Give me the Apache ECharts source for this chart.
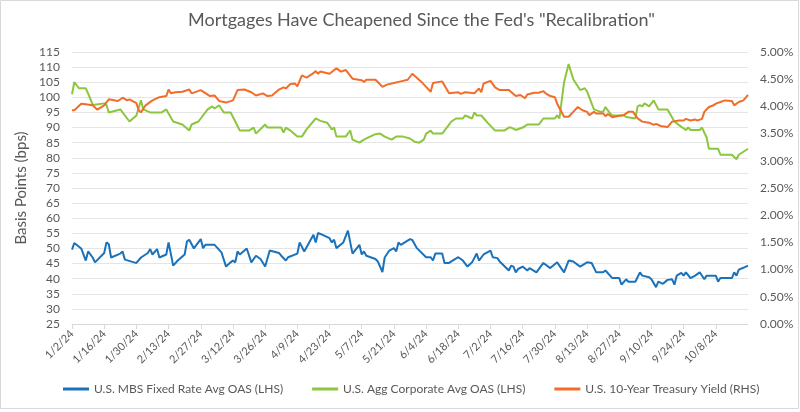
<!DOCTYPE html>
<html><head><meta charset="utf-8">
<script src="https://cdn.jsdelivr.net/npm/echarts@6/dist/echarts.min.js"></script>
<style>html,body{margin:0;padding:0;background:#fff}#c{width:800px;height:412px}</style>
</head><body><div id="c"></div>
<script>
const titleText = 'Mortgages Have Cheapened Since the Fed\'s "Recalibration"';
const seriesNames = ['U.S. MBS Fixed Rate Avg OAS (LHS)', 'U.S. Agg Corporate Avg OAS (LHS)', 'U.S. 10-Year Treasury Yield (RHS)'];
const axisStart = '2024-01-02';
const axisEnd = '2024-10-22';
const leftTicks = [25, 115, 5];
const rightTicks = [0, 5, 0.5];

const mbsDates = ['01-02','01-03','01-06','01-08','01-09','01-11','01-12','01-16','01-17','01-18','01-19','01-23','01-24','01-25','01-29','01-30','02-01','02-04','02-05','02-06','02-08','02-09','02-12','02-13','02-15','02-17','02-20','02-21','02-22','02-24','02-27','02-28','02-29','03-04','03-07','03-09','03-11','03-12','03-13','03-14','03-15','03-18','03-20','03-22','03-24','03-26','03-28','04-01','04-02','04-04','04-05','04-09','04-10','04-12','04-16','04-17','04-18','04-20','04-23','04-24','04-25','04-26','04-29','05-01','05-03','05-06','05-07','05-08','05-09','05-13','05-14','05-16','05-17','05-19','05-21','05-22','05-23','05-24','05-28','05-29','05-31','06-04','06-06','06-07','06-08','06-11','06-12','06-14','06-15','06-18','06-20','06-22','06-24','06-26','06-27','06-29','07-02','07-03','07-05','07-06','07-10','07-11','07-12','07-13','07-14','07-16','07-18','07-19','07-22','07-25','07-28','07-31','08-03','08-05','08-07','08-10','08-13','08-15','08-17','08-20','08-21','08-24','08-27','08-28','08-30','08-31','09-03','09-05','09-06','09-09','09-10','09-12','09-13','09-15','09-17','09-19','09-20','09-21','09-23','09-24','09-25','09-27','09-29','10-01','10-03','10-04','10-08','10-09','10-10','10-15','10-16','10-17','10-18','10-20','10-22'];
const mbsOas = [49.6,51.8,50,46,49,47,45.4,48.5,52,51.4,47,48.3,49,46.3,45.4,45.2,47,48.5,49.8,48,49.8,47,48,52,44.3,46,48,52.3,52.9,50,53.1,50.1,51.2,51.2,48.7,44,45.4,46,45.4,49,48,50,45.4,47.6,46.5,44,49.3,48.5,47.6,46,47.1,48.3,52,49,54.5,52,55.1,54.5,53.4,52,52.9,50.1,52,55.9,48.3,51.2,48,49,47.6,46.5,45.7,42.2,47,49.3,50.1,49,52,51.2,53.1,52.8,50.1,47.1,47.1,46,48.3,48.3,45.2,45.2,45.7,47.1,46,44,45.4,48.3,46,48,49.3,47.1,46.8,45.7,42.7,44.3,44,42.1,43.2,44,42.7,43.5,42.1,45.2,43.5,45.4,42.1,46,45.7,44,45.4,45.2,42.1,42.1,42.7,40.2,40.2,38,39.8,39,39,42.1,41,40.5,39.8,37.2,39,38.3,39.6,39.8,38,41,41.9,41,42.1,40.2,41,42.1,39.8,41,41,39,40.2,40.2,42.1,41,43,43.6,44.3];

const corpDates = ['01-02','01-03','01-05','01-08','01-10','01-11','01-16','01-17','01-18','01-23','01-27','01-30','02-01','02-02','02-05','02-10','02-12','02-15','02-19','02-22','02-23','02-26','03-01','03-03','03-04','03-06','03-08','03-11','03-13','03-15','03-19','03-21','03-22','03-26','03-27','04-02','04-03','04-04','04-06','04-09','04-11','04-13','04-17','04-19','04-22','04-24','04-25','04-26','04-30','05-02','05-03','05-06','05-08','05-09','05-13','05-15','05-17','05-20','05-22','05-25','05-28','05-30','06-01','06-03','06-04','06-06','06-07','06-11','06-14','06-15','06-17','06-20','06-21','06-24','06-25','06-26','06-28','07-01','07-04','07-08','07-10','07-11','07-13','07-16','07-17','07-18','07-23','07-25','07-30','07-31','08-01','08-03','08-05','08-07','08-10','08-12','08-13','08-16','08-19','08-20','08-21','08-23','08-24','08-29','08-30','09-03','09-04','09-05','09-06','09-07','09-09','09-11','09-13','09-17','09-20','09-22','09-25','09-26','09-27','10-01','10-02','10-04','10-05','10-09','10-10','10-15','10-17','10-18','10-22'];
const corpOas = [101,105,103,103,99.5,97.5,98,97.5,95,96,92,94,99,96,95,95,96,92,91,89,91,92,96,97,96.3,97.4,95,95,92,89,89,90,88,91,90,90,88.3,90,89,87,87,89.4,93,92.2,91.6,89.4,90,87,87,89,86,85,86,86.4,87.8,88,87,86,87,87,86.4,85.3,85,86,88,89,88,88,91,92,93,93,94,93,95,94,94,91.4,89,89,90,90,89.2,90,90.5,91,91,93,93,94,93,105,111,106,102.4,103,102,96,95.2,95.2,96.8,94.7,94,94,93.5,93,97,97.4,97,98,97,99,96,96,92,90.8,89.2,90,89.2,89.2,90,86.7,83,83,81,81,79.5,81,83];

const tsyDates = ['01-02','01-03','01-06','01-08','01-11','01-13','01-16','01-18','01-22','01-24','01-26','01-27','01-30','01-31','02-01','02-03','02-06','02-09','02-12','02-13','02-14','02-16','02-19','02-22','02-23','02-27','03-02','03-04','03-06','03-09','03-12','03-14','03-17','03-20','03-22','03-25','03-27','03-29','04-01','04-03','04-04','04-06','04-08','04-09','04-11','04-13','04-16','04-17','04-18','04-19','04-23','04-26','04-28','04-30','05-03','05-07','05-08','05-09','05-13','05-16','05-18','05-21','05-24','05-27','05-29','06-02','06-04','06-06','06-07','06-11','06-14','06-18','06-19','06-21','06-25','06-27','06-28','06-29','07-02','07-04','07-06','07-10','07-13','07-15','07-17','07-18','07-21','07-23','07-25','07-26','07-28','07-30','07-31','08-03','08-05','08-07','08-09','08-11','08-13','08-14','08-16','08-17','08-20','08-21','08-22','08-24','08-26','08-29','08-31','09-02','09-04','09-06','09-09','09-11','09-12','09-14','09-17','09-19','09-22','09-24','09-25','09-27','09-29','09-30','10-02','10-03','10-05','10-07','10-08','10-10','10-12','10-15','10-16','10-18','10-20','10-22'];
const tsyYield = [3.93,3.93,4.05,4.04,4.02,3.94,4.02,4.13,4.10,4.16,4.11,4.13,4.06,3.93,3.89,4.02,4.11,4.17,4.19,4.31,4.24,4.26,4.27,4.31,4.24,4.30,4.19,4.20,4.10,4.07,4.11,4.30,4.31,4.26,4.20,4.24,4.19,4.20,4.31,4.35,4.33,4.41,4.42,4.37,4.57,4.53,4.61,4.65,4.60,4.64,4.60,4.70,4.64,4.67,4.51,4.48,4.45,4.49,4.49,4.36,4.40,4.43,4.46,4.49,4.60,4.45,4.36,4.27,4.43,4.46,4.24,4.26,4.23,4.26,4.24,4.33,4.26,4.42,4.47,4.35,4.30,4.30,4.19,4.21,4.15,4.22,4.25,4.25,4.28,4.24,4.19,4.17,4.05,3.81,3.81,3.90,3.99,3.93,3.90,3.84,3.90,3.87,3.87,3.82,3.86,3.80,3.82,3.84,3.90,3.90,3.78,3.72,3.70,3.66,3.68,3.64,3.62,3.72,3.74,3.74,3.77,3.74,3.76,3.74,3.77,3.90,3.99,4.02,4.05,4.08,4.11,4.10,4.02,4.08,4.11,4.21];

function toUTC(s){ const p = s.split('-').map(Number); return Date.UTC(p[0], p[1]-1, p[2]); }
const t0 = toUTC(axisStart);
function dayOf(md){ return Math.round((toUTC('2024-' + md) - t0) / 86400000); }
const endDay = Math.round((toUTC(axisEnd) - t0) / 86400000);
function pairs(dates, vals){ return dates.map((d,i)=>[dayOf(d), vals[i]]); }
function labelOf(day){ const dt = new Date(t0 + day*86400000); return (dt.getUTCMonth()+1) + '/' + dt.getUTCDate() + '/' + String(dt.getUTCFullYear()).slice(2); }

const FONT = 'Lato';
const TXT = '#595959';
const chart = echarts.init(document.getElementById('c'), null, {renderer:'canvas'});
chart.setOption({
  animation: false,
  backgroundColor: '#ffffff',
  textStyle: {fontFamily: FONT},
  graphic: [{type:'rect', shape:{x:0.5,y:0.5,width:798,height:408}, style:{fill:'none', stroke:'#d9d9d9', lineWidth:1}, silent:true}],
  title: {text: titleText, left: 183, top: 6, textStyle:{fontFamily: FONT, fontSize: 18, fontWeight: 'normal', color: TXT}},
  legend: {bottom: 12, left: 58, itemWidth: 26, itemHeight: 3, itemGap: 29, icon: 'rect',
    textStyle:{fontFamily: FONT, fontSize: 12, color: TXT}, data: seriesNames},
  grid: {left: 72, right: 52, top: 52, bottom: 88},
  xAxis: {type:'value', min:0, max:endDay, interval:14,
    axisLine:{show:true, onZero:false, lineStyle:{color:'#d9d9d9'}},
    axisTick:{show:true, length:5, lineStyle:{color:'#d9d9d9'}},
    splitLine:{show:false},
    axisLabel:{rotate:45, color:TXT, fontSize:11, fontFamily:FONT, margin:8, showMaxLabel:false, formatter: v => labelOf(v)}},
  yAxis: [
    {type:'value', min:leftTicks[0], max:leftTicks[1], interval:leftTicks[2], position:'left',
      name:'Basis Points (bps)', nameLocation:'middle', nameGap:42, nameRotate:90,
      nameTextStyle:{fontFamily:FONT, fontSize:15, color:TXT},
      axisLine:{show:false}, axisTick:{show:false},
      splitLine:{show:true, lineStyle:{color:'#e5e5e5', width:1}},
      axisLabel:{color:TXT, fontSize:12, fontFamily:FONT, margin:12}},
    {type:'value', min:rightTicks[0], max:rightTicks[1], interval:rightTicks[2], position:'right',
      axisLine:{show:false}, axisTick:{show:false}, splitLine:{show:false},
      axisLabel:{color:TXT, fontSize:12, fontFamily:FONT, margin:12, formatter: v => v.toFixed(2) + '%'}}
  ],
  series: [
    {name: seriesNames[0], type:'line', yAxisIndex:0, data: pairs(mbsDates, mbsOas), showSymbol:false, symbol:'none', lineStyle:{width:2, color:'#1a72bb'}, itemStyle:{color:'#1a72bb'}},
    {name: seriesNames[1], type:'line', yAxisIndex:0, data: pairs(corpDates, corpOas), showSymbol:false, symbol:'none', lineStyle:{width:2, color:'#8cc63f'}, itemStyle:{color:'#8cc63f'}},
    {name: seriesNames[2], type:'line', yAxisIndex:1, data: pairs(tsyDates, tsyYield), showSymbol:false, symbol:'none', lineStyle:{width:2, color:'#f26c2a'}, itemStyle:{color:'#f26c2a'}}
  ]
});
</script></body></html>
